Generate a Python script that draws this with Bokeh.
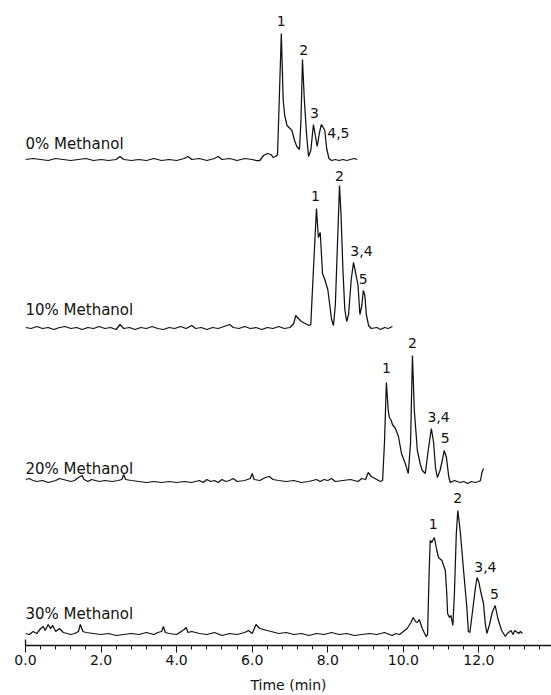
import numpy as np
from bokeh.plotting import figure
from bokeh.models import Range1d, SingleIntervalTicker, FixedTicker, PrintfTickFormatter
from bokeh.core.properties import value
from bokeh.embed import file_html
from bokeh.resources import INLINE

# ---------------- data ----------------
trace_names = ["0% Methanol", "10% Methanol", "20% Methanol", "30% Methanol"]

# (time in min, detector signal in arbitrary units above baseline)
trace_0 = [(0.0,1),(0.2,2),(0.4,1),(0.6,0),(0.8,2),(1.0,1),(1.2,0),(1.4,1),(1.6,2),(1.8,0),
           (2.0,1),(2.2,0),(2.4,1),(2.5,4),(2.6,1),(2.8,0),(3.0,1),(3.2,0),(3.4,2),(3.6,0),
           (3.8,1),(4.0,0),(4.2,2),(4.3,4),(4.4,1),(4.6,2),(4.8,0),(5.0,2),(5.1,4),(5.2,1),
           (5.4,2),(5.6,0),(5.8,2),(6.0,1),(6.1,0),(6.2,0),(6.3,5),(6.4,7),(6.5,6),(6.55,3),
           (6.62,4),(6.67,6),(6.77,127),(6.82,60),(6.86,45),(6.92,35),(7.0,32),(7.05,30),
           (7.12,20),(7.18,14),(7.25,11),(7.29,40),(7.33,101),(7.38,60),(7.44,25),(7.49,4),
           (7.55,10),(7.62,36),(7.67,25),(7.72,14),(7.78,28),(7.83,36),(7.88,33),(7.92,30),
           (7.97,12),(8.03,2),(8.1,0),(8.2,1),(8.3,0),(8.4,1),(8.5,0),(8.6,1),(8.7,2),(8.78,1)]

trace_10 = [(0.0,2),(0.15,1),(0.3,3),(0.45,1),(0.6,2),(0.75,0),(0.9,2),(1.05,3),(1.2,1),(1.35,2),
            (1.5,0),(1.65,2),(1.8,1),(1.95,3),(2.1,1),(2.25,2),(2.4,0),(2.5,5),(2.6,1),(2.75,2),
            (2.9,0),(3.05,2),(3.2,1),(3.35,3),(3.5,1),(3.65,0),(3.8,2),(3.95,1),(4.1,3),(4.25,1),
            (4.4,4),(4.5,1),(4.65,2),(4.8,0),(4.95,2),(5.1,1),(5.25,3),(5.4,5),(5.5,2),(5.65,1),
            (5.8,3),(5.95,1),(6.1,2),(6.25,0),(6.4,2),(6.55,1),(6.7,3),(6.85,1),(7.0,2),(7.1,6),
            (7.15,14),(7.2,12),(7.3,8),(7.4,6),(7.5,4),(7.55,5),(7.62,60),(7.70,121),(7.75,92),
            (7.8,97),(7.86,56),(7.92,50),(8.0,40),(8.05,25),(8.1,10),(8.15,4),(8.2,25),(8.31,144),
            (8.35,115),(8.4,60),(8.45,20),(8.5,8),(8.55,15),(8.62,50),(8.68,67),(8.74,56),(8.8,44),
            (8.85,15),(8.9,24),(8.94,39),(8.98,34),(9.02,15),(9.08,4),(9.15,1),(9.3,2),(9.4,0),
            (9.5,2),(9.6,1),(9.71,3)]

trace_20 = [(0.0,3),(0.1,4),(0.2,2),(0.3,1),(0.45,2),(0.6,0),(0.8,2),(0.9,4),(1.0,3),(1.1,2),
            (1.2,1),(1.3,2),(1.4,5),(1.5,7),(1.55,3),(1.65,1),(1.75,3),(1.85,2),(1.95,1),(2.1,2),
            (2.3,1),(2.45,2),(2.55,3),(2.6,8),(2.65,3),(2.8,2),(3.0,1),(3.2,0),(3.4,1),(3.6,0),
            (3.8,1),(4.0,0),(4.2,1),(4.4,0),(4.6,2),(4.7,0),(4.8,3),(4.9,1),(5.0,2),(5.1,0),
            (5.2,3),(5.3,1),(5.4,2),(5.5,4),(5.6,1),(5.8,2),(5.95,4),(6.0,9),(6.05,3),(6.2,2),
            (6.35,5),(6.45,6),(6.55,3),(6.7,2),(6.9,1),(7.1,2),(7.3,0),(7.5,1),(7.7,3),(7.8,1),
            (7.9,3),(8.0,2),(8.1,4),(8.2,1),(8.4,2),(8.6,3),(8.8,1),(8.9,4),(9.0,3),(9.07,10),
            (9.15,6),(9.25,4),(9.39,1),(9.45,2),(9.5,40),(9.55,100),(9.6,72),(9.63,65),(9.68,62),
            (9.71,58),(9.79,54),(9.87,46),(9.95,29),(10.0,24),(10.05,19),(10.13,9),(10.19,40),
            (10.24,127),(10.29,72),(10.37,32),(10.45,18),(10.5,12),(10.58,9),(10.65,30),(10.74,54),
            (10.8,40),(10.85,15),(10.9,5),(10.97,12),(11.03,22),(11.08,32),(11.14,25),(11.2,6),
            (11.24,0),(11.35,2),(11.5,0),(11.6,1),(11.7,-1),(11.8,1),(11.9,0),(12.0,1),(12.04,2),
            (12.08,10),(12.12,14)]

trace_30 = [(0.0,1),(0.1,0),(0.2,3),(0.3,1),(0.4,6),(0.47,8),(0.52,4),(0.6,10),(0.66,6),(0.72,9),
            (0.8,3),(0.9,6),(1.0,2),(1.1,1),(1.2,0),(1.3,1),(1.4,3),(1.45,10),(1.52,3),(1.6,2),
            (1.8,1),(2.0,0),(2.2,1),(2.4,-1),(2.6,0),(2.8,1),(3.0,0),(3.2,2),(3.4,0),(3.5,2),
            (3.6,3),(3.65,8),(3.7,2),(3.8,1),(4.0,0),(4.2,5),(4.25,7),(4.3,2),(4.4,3),(4.6,1),
            (4.8,0),(5.0,2),(5.2,-1),(5.4,1),(5.6,0),(5.8,2),(5.9,4),(6.0,1),(6.1,10),(6.2,6),
            (6.3,5),(6.5,3),(6.7,1),(6.9,2),(7.1,0),(7.3,1),(7.5,-1),(7.7,1),(7.9,0),(8.1,2),
            (8.3,0),(8.5,1),(8.7,-1),(8.9,0),(9.1,1),(9.3,0),(9.5,2),(9.7,-1),(9.8,1),(9.9,0),
            (10.0,3),(10.1,6),(10.2,12),(10.26,17),(10.32,13),(10.37,12),(10.42,15),(10.5,6),
            (10.6,-2),(10.64,0),(10.68,60),(10.71,94),(10.75,92),(10.79,95),(10.82,97),(10.88,85),
            (10.93,77),(11.02,74),(11.11,64),(11.15,40),(11.17,21),(11.22,17),(11.26,19),(11.31,9),
            (11.35,40),(11.4,100),(11.44,124),(11.48,112),(11.51,101),(11.6,61),(11.68,27),(11.72,3),
            (11.76,2),(11.82,20),(11.9,45),(11.95,57),(12.0,52),(12.04,44),(12.12,31),(12.17,10),
            (12.21,1),(12.28,10),(12.35,22),(12.43,29),(12.5,16),(12.6,4),(12.7,-2),(12.75,1),
            (12.85,4),(12.9,0),(12.95,4),(13.05,1),(13.1,3),(13.15,1)]

traces = [trace_0, trace_10, trace_20, trace_30]

peak_labels = [["1", "2", "3", "4,5"],
               ["1", "2", "3,4", "5"],
               ["1", "2", "3,4", "5"],
               ["1", "2", "3,4", "5"]]
peak_times = [[6.77, 7.33, 7.62, 7.83],
              [7.70, 8.31, 8.68, 8.94],
              [9.55, 10.24, 10.74, 11.08],
              [10.82, 11.44, 11.95, 12.43]]

x_ticks_interval = 2.0

# ---------------- layout / style ----------------
offsets = [485, 316, 163, 11]          # vertical stacking of the traces
name_gap = [17, 20, 14, 21]            # trace-name height above its baseline
label_dx = [[0, 0.03, 0.03, 0.45],
            [-0.03, 0, 0.21, 0],
            [0, 0, 0.19, 0.03],
            [-0.03, 0, 0.22, -0.02]]
label_gap = [[13, 10, 12, -8],
             [13, 10, 12, 12],
             [15, 13, 12, 13],
             [14, 13, 11, 12]]

FONT = "DejaVu Sans"
INK = "#111111"

p = figure(width=551, height=695,
           x_range=Range1d(0, 13.92), y_range=Range1d(0, 645),
           output_backend="svg", toolbar_location=None,
           min_border_left=25, min_border_right=0, min_border_top=0, min_border_bottom=50)
p.outline_line_color = None
p.xgrid.visible = False
p.ygrid.visible = False
p.background_fill_color = "white"
p.border_fill_color = "white"

for tr, off, name, ng, labs, pts, dxs, gaps in zip(traces, offsets, trace_names, name_gap,
                                                   peak_labels, peak_times, label_dx, label_gap):
    t = np.array([a for a, b in tr], dtype=float)
    s = np.array([b for a, b in tr], dtype=float)
    p.line(t, s + off, line_color=INK, line_width=1.25)
    p.text(x=[0.0], y=[off + ng], text=[name], text_font=value(FONT),
           text_font_size="15px", text_align="left", text_baseline="middle", text_color=INK)
    lx = [pt + dx for pt, dx in zip(pts, dxs)]
    ly = [off + np.interp(pt, t, s) + g for pt, g in zip(pts, gaps)]
    p.text(x=lx, y=ly, text=labs, text_font=value(FONT), text_font_size="14px",
           text_align="center", text_baseline="middle", text_color=INK)

xa = p.xaxis[0]
xa.ticker = SingleIntervalTicker(interval=x_ticks_interval, num_minor_ticks=5)
xa.formatter = PrintfTickFormatter(format="%.1f")
xa.axis_label = "Time (min)"
xa.axis_label_text_font = FONT
xa.axis_label_text_font_size = "14px"
xa.axis_label_text_font_style = "normal"
xa.axis_label_text_color = INK
xa.axis_label_standoff = 9
xa.major_label_text_font = FONT
xa.major_label_text_font_size = "14px"
xa.major_label_text_color = INK
xa.major_label_standoff = 2
xa.axis_line_width = 1.3
xa.axis_line_color = INK
xa.major_tick_out = 7
xa.major_tick_in = 0
xa.minor_tick_out = 4
xa.minor_tick_in = 0
xa.major_tick_line_color = INK
xa.minor_tick_line_color = INK

ya = p.yaxis[0]
ya.ticker = FixedTicker(ticks=[])
ya.bounds = (0, 6)
ya.major_tick_out = 0
ya.major_tick_in = 0
ya.minor_tick_out = 0
ya.minor_tick_in = 0
ya.major_label_text_font_size = "0px"
ya.axis_line_color = INK
ya.axis_line_width = 1.3

open("out.html", "w").write(file_html(p, INLINE))
